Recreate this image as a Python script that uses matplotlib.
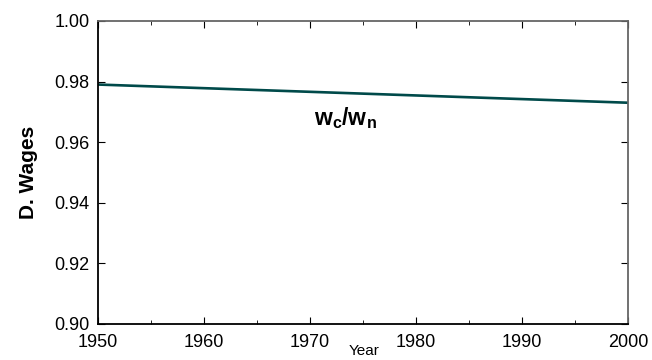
import matplotlib.pyplot as plt
from matplotlib.ticker import MultipleLocator

plt.rcParams['font.family'] = ['Liberation Sans', 'DejaVu Sans']
plt.rcParams['mathtext.fontset'] = 'custom'
plt.rcParams['mathtext.bf'] = 'Liberation Sans:bold'
plt.rcParams['mathtext.rm'] = 'Liberation Sans'

years = [1950, 2000]
wage_ratio = [0.979, 0.973]

fig = plt.figure(figsize=(6.52, 3.6), dpi=100)
ax = fig.add_axes([0.150, 0.100, 0.813, 0.842])

ax.plot(years, wage_ratio, color="#004a4a", lw=1.9)
ax.text(1970.4, 0.9655, r'$\mathbf{w_{c}/w_{n}}$', fontsize=16.5)

ax.set_xlim(1950, 2000)
ax.set_ylim(0.90, 1.00)
ax.xaxis.set_major_locator(MultipleLocator(10))
ax.xaxis.set_minor_locator(MultipleLocator(5))
ax.yaxis.set_major_locator(MultipleLocator(0.02))
ax.yaxis.set_major_formatter(plt.FormatStrFormatter('%.2f'))
ax.tick_params(which='both', direction='in', top=True, right=True,
               labelsize=13)
ax.tick_params(axis='x', pad=7)
ax.tick_params(axis='y', pad=6)
ax.tick_params(which='major', length=5)
ax.tick_params(which='minor', length=3)

ax.spines['left'].set_linewidth(1.3)
ax.spines['bottom'].set_linewidth(1.3)
ax.spines['top'].set_color('#666666')
ax.spines['right'].set_color('#666666')
ax.spines['top'].set_linewidth(1.3)
ax.spines['right'].set_linewidth(1.3)

ax.set_ylabel("D. Wages", fontsize=15, fontweight='bold', labelpad=12)
ax.text(1975.1, 0.8934, "Year", fontsize=11, ha='center', va='top')

fig.savefig("out.png", dpi=100)
